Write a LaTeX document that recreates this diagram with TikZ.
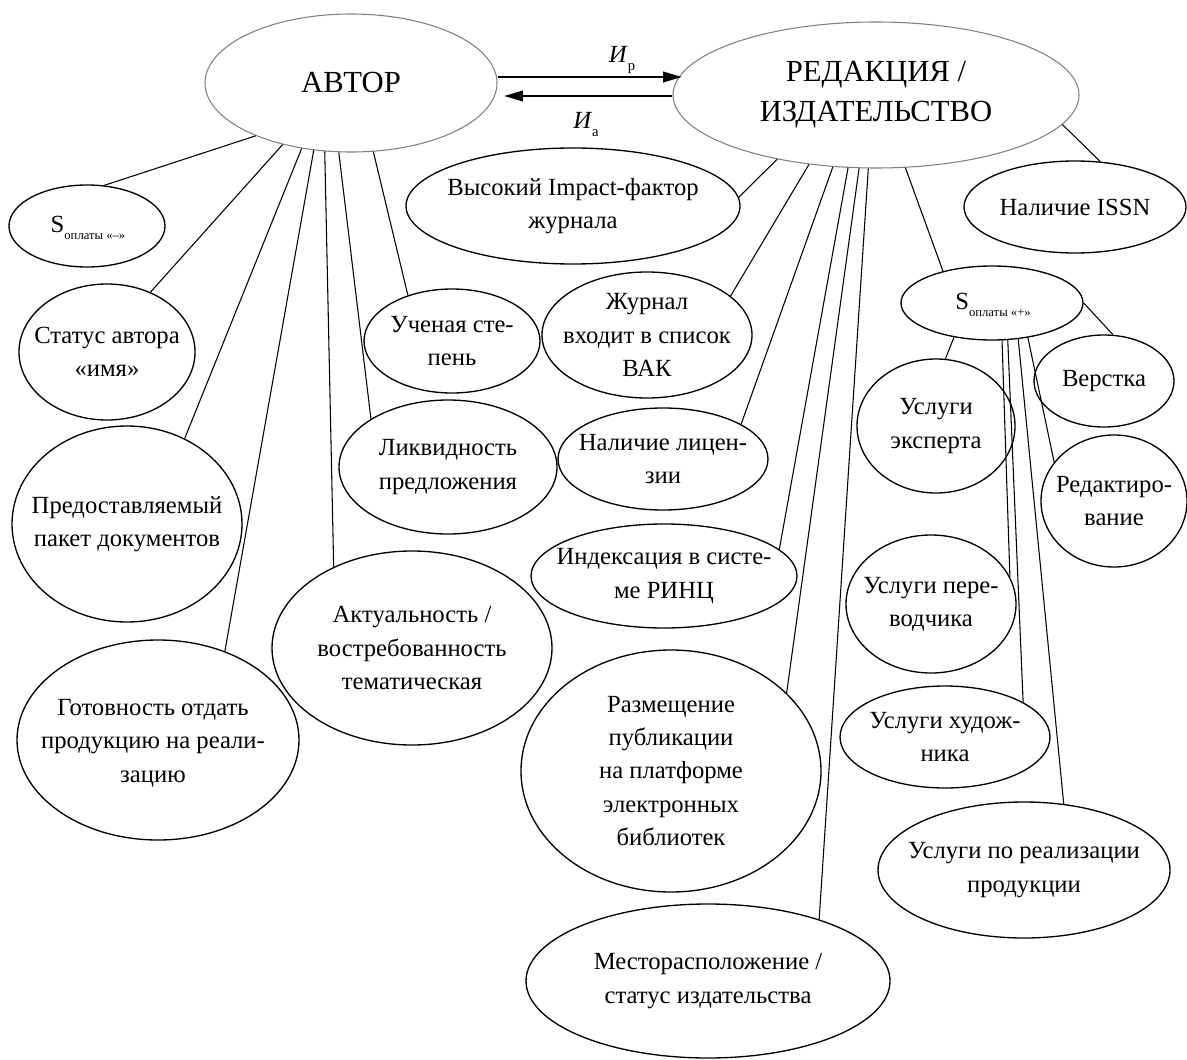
\documentclass[tikz,border=0pt]{standalone}
\usepackage{fontspec}
\setmainfont{Liberation Serif}
\usetikzlibrary{shapes.geometric,arrows.meta}

\begin{document}
\begin{tikzpicture}[x=0.75pt,y=0.75pt,yscale=-1,xscale=1,
  bub/.style 2 args={ellipse,draw,line width=1pt,inner sep=0pt,minimum width=#1*1.5pt,minimum height=#2*1.5pt},
  mainbub/.style 2 args={bub={#1}{#2},draw=black!50,line width=0.8pt},
  txt/.style={align=center,inner sep=0pt,font=\fontsize{18.5}{25}\selectfont},
  bigtxt/.style={align=center,inner sep=0pt,font=\fontsize{23}{30}\selectfont},
  link/.style={line width=0.8pt},
  arr/.style={line width=1.1pt,-{Triangle[length=14pt,width=8pt]}}]
\useasboundingbox (0,0) rectangle (1187,1059);

%Shape: Ellipse (author side)
\node[mainbub={146}{69}] (avt) at (351,83) {};
\node[bub={78}{41}] (sminus) at (87,226) {};
\node[bub={88}{68}] (stat) at (107,352) {};
\node[bub={115}{98}] (pred) at (127,524) {};
\node[bub={141}{100}] (got) at (158,740) {};
\node[bub={140}{97}] (akt) at (412,648) {};
\node[bub={88}{52}] (uch) at (452,341) {};
\node[bub={109}{67}] (likv) at (448,467) {};
%Shape: Ellipse (publisher side)
\node[mainbub={203}{73}] (red) at (876,95) {};
\node[bub={167}{58}] (imp) at (573,206) {};
\node[bub={105}{63}] (zhur) at (647,335) {};
\node[bub={105}{51}] (lic) at (663,459) {};
\node[bub={133}{52}] (ind) at (664,576) {};
\node[bub={150}{121}] (razm) at (671,771) {};
\node[bub={182}{77}] (mest) at (708,981) {};
\node[bub={111}{46}] (issn) at (1075,207) {};
%Shape: Ellipse (paid services)
\node[bub={91}{37}] (splus) at (992,303) {};
\node[bub={70}{46}] (verst) at (1104,381) {};
\node[bub={79}{67}] (eksp) at (936,426) {};
\node[bub={73}{66}] (redk) at (1114,501) {};
\node[bub={85}{69}] (perev) at (931,604) {};
\node[bub={105}{51}] (hud) at (945,737) {};
\node[bub={146}{68}] (real) at (1024,870) {};

% Text Node
\node[bigtxt] (avt-t) at (avt) {АВТОР};
\node[bigtxt] (red-t) at (red) {РЕДАКЦИЯ /\\ИЗДАТЕЛЬСТВО};
\node[txt] (sminus-t) at (88,228) {S\raisebox{-5pt}{\fontsize{9.5}{10}\selectfont оплаты «–»}};
\node[txt] (stat-t) at (stat) {Статус автора\\«имя»};
\node[txt] (pred-t) at (pred) {Предоставляемый\\пакет документов};
\node[txt] (got-t) at (153,743) {Готовность отдать\\продукцию на реали-\\зацию};
\node[txt] (akt-t) at (akt) {Актуальность /\\востребованность\\тематическая};
\node[txt] (uch-t) at (uch) {Ученая сте-\\пень};
\node[txt] (likv-t) at (likv) {Ликвидность\\предложения};
\node[txt] (imp-t) at (imp) {Высокий Impact-фактор\\журнала};
\node[txt] (zhur-t) at (zhur) {Журнал\\входит в список\\ВАК};
\node[txt] (lic-t) at (lic) {Наличие лицен-\\зии};
\node[txt] (ind-t) at (ind) {Индексация в систе-\\ме РИНЦ};
\node[txt] (razm-t) at (razm) {Размещение\\публикации\\на платформе\\электронных\\библиотек};
\node[txt] (mest-t) at (mest) {Месторасположение /\\статус издательства};
\node[txt] (issn-t) at (issn) {Наличие ISSN};
\node[txt] (splus-t) at (993,305) {S\raisebox{-5pt}{\fontsize{9.5}{10}\selectfont оплаты «+»}};
\node[txt] (verst-t) at (verst) {Верстка};
\node[txt] (eksp-t) at (eksp) {Услуги\\эксперта};
\node[txt] (redk-t) at (redk) {Редактиро-\\вание};
\node[txt] (perev-t) at (perev) {Услуги пере-\\водчика};
\node[txt] (hud-t) at (hud) {Услуги худож-\\ника};
\node[txt] (real-t) at (real) {Услуги по реализации\\продукции};
\node[txt] (ip) at (622,60) {\textit{И}\raisebox{-6pt}{\fontsize{11}{11}\selectfont р}};
\node[txt] (ia) at (586,124) {\textit{И}\raisebox{-6pt}{\fontsize{11}{11}\selectfont а}};

%Arrows between author and publisher
\draw[arr,shorten >=-7pt] (avt.east |- 0,77) -- (red.west |- 0,77);
\draw[arr,shorten >=5pt] (red.west |- 0,96) -- (avt.east |- 0,96);

%Straight Lines (author)
\draw[link] (avt.209) -- (sminus.67);
\draw[link] (avt.222) -- (stat.54);
\draw[link] (avt.233) -- (pred.56);
\draw[link] (avt.241) -- (got.53);
\draw[link] (avt.249.5) -- (akt.134);
\draw[link] (avt.260) -- (likv.148);
\draw[link] (avt.288) -- (uch.134);
%Straight Lines (publisher)
\draw[link] (red.213) -- (imp.3);
\draw[link] (red.226) -- (zhur.25);
\draw[link] (red.239) -- (lic.24);
\draw[link] (red.249.5) -- (ind.13);
\draw[link] (red.257.5) -- (razm.34);
\draw[link] (red.264.5) -- (mest.29);
\draw[link] (red.292) -- (splus.147);
\draw[link] (red.351.5) -- (issn.61.5);
%Straight Lines (paid services)
\draw[link] (splus.222) -- (eksp.82);
\draw[link] (splus.285) -- (perev.19);
\draw[link] (splus.293.5) -- (hud.24);
\draw[link] (splus.306) -- (real.59.5);
\draw[link] (splus.316) -- (redk.147);
\draw[link] (splus.0) -- (verst.79);

\end{tikzpicture}
\end{document}
